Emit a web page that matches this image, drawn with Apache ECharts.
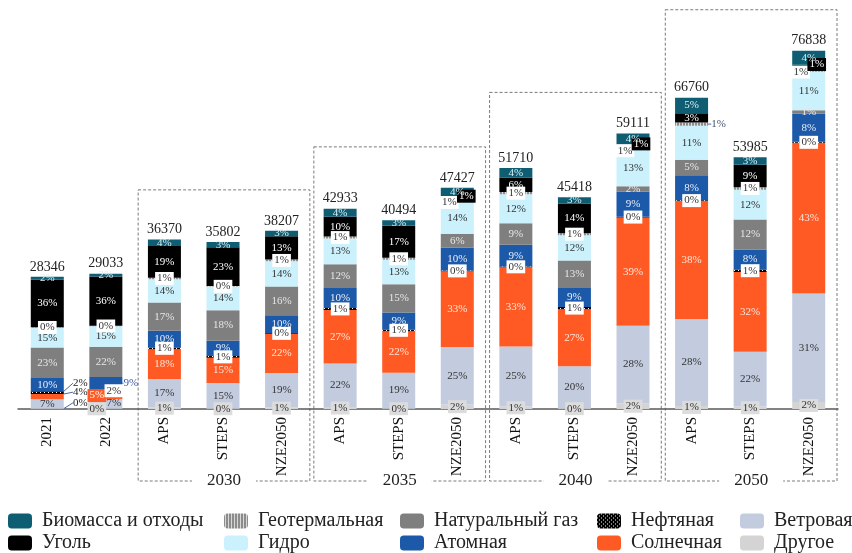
<!DOCTYPE html>
<html>
<head>
<meta charset="utf-8">
<script src="https://cdn.jsdelivr.net/npm/echarts@6/dist/echarts.min.js"></script>
<style>
html, body { margin: 0; padding: 0; background: #fff; }
#chart { width: 852px; height: 553px; }
</style>
</head>
<body>
<div id="chart"></div>
<script>
// категории по оси X
const categories = ['2021', '2022', 'APS', 'STEPS', 'NZE2050', 'APS', 'STEPS', 'NZE2050',
                    'APS', 'STEPS', 'NZE2050', 'APS', 'STEPS', 'NZE2050'];
const groupLabels = ['2030', '2035', '2040', '2050'];
const groupStart = [2, 5, 8, 11];

// итоговая выработка, ТВт·ч
const totals = [28346, 29033, 36370, 35802, 38207, 42933, 40494, 47427, 51710, 45418, 59111, 66760, 53985, 76838];

// доли, % (0.3 = на картинке «0%», но слой виден)
const otherShare   = [0.3, 0.3, 1, 0.3, 1, 1, 0.3, 2, 1, 0.3, 2, 1, 1, 2];
const windShare    = [7, 7, 17, 15, 19, 22, 19, 25, 25, 20, 28, 28, 22, 31];
const solarShare   = [4, 5, 18, 15, 22, 27, 22, 33, 33, 27, 39, 38, 32, 43];
const oilShare     = [2, 2, 1, 1, 0.3, 1, 1, 0.3, 0.3, 1, 0.3, 0.3, 1, 0.3];
const nuclearShare = [10, 9, 10, 9, 10, 10, 9, 10, 9, 9, 9, 8, 8, 8];
const gasShare     = [23, 22, 17, 18, 16, 12, 15, 6, 9, 13, 2, 5, 12, 1];
const hydroShare   = [15, 15, 14, 14, 14, 13, 13, 14, 12, 12, 13, 11, 12, 11];
const geoShare     = [0.3, 0.3, 1, 0.3, 1, 1, 1, 1, 1, 1, 1, 1, 1, 1];
const coalShare    = [36, 36, 19, 23, 13, 10, 17, 1, 6, 14, 1, 3, 9, 1];
const bioShare     = [2, 2, 4, 3, 3, 4, 3, 4, 4, 3, 4, 5, 3, 4];

const SERIF = 'Liberation Serif';

function pattern(size, bg, fg, dots) {
    const c = document.createElement('canvas');
    c.width = size; c.height = size;
    const ctx = c.getContext('2d');
    ctx.fillStyle = bg;
    ctx.fillRect(0, 0, size, size);
    ctx.fillStyle = fg;
    dots.forEach(d => ctx.fillRect(d[0], d[1], d[2], d[3]));
    return { image: c, repeat: 'repeat' };
}

const geoFill = pattern(3, '#8c8c8c', '#dcdcdc', [[1, 0, 1, 3]]);
const oilFill = pattern(4, '#000', '#fff', [[0, 0, 1, 1], [2, 2, 1, 1]]);

const plain = { backgroundColor: 'transparent', color: '#222', padding: 0 };
const whiteBox = { backgroundColor: '#fff', color: '#333', padding: [1, 2] };
const blackBox = { backgroundColor: '#000', padding: [1, 2] };

// снизу вверх; moves — сдвиг подписи [dx, dy], lines — с выноской
const sources = [
    { name: 'Другое', share: otherShare, color: '#d4d4d4',
      label: { color: '#333', backgroundColor: '#dcdcdc', padding: [1, 2] },
      items: { 0: { label: plain } },
      moves: { 0: [33, -6], 1: [-9, 0] }, lines: [0] },
    { name: 'Ветровая', share: windShare, color: '#c3ccdf', label: { color: '#333' },
      moves: { 1: [8, -1] } },
    { name: 'Солнечная', share: solarShare, color: '#ff5a24', label: { color: '#fde6dc' },
      items: { 0: { label: plain },
               1: { label: { backgroundColor: '#ff5a24', color: '#fff', padding: [1, 2] } } },
      moves: { 0: [33, -4.5], 1: [-9, 0] }, lines: [0] },
    { name: 'Нефтяная', share: oilShare, color: oilFill, label: whiteBox,
      items: { 0: { label: plain } },
      moves: { 0: [33, -9.5], 1: [8, 0] }, lines: [0] },
    { name: 'Атомная', share: nuclearShare, color: '#1c59a8', label: { color: '#e8eef8' },
      items: { 1: { label: { color: '#3a5ba8' } } },
      moves: { 1: [25, 0] }, lines: [1] },
    { name: 'Натуральный газ', share: gasShare, color: '#7f7f7f', label: { color: '#e6e6e6' } },
    { name: 'Гидро', share: hydroShare, color: '#cbf1fc', label: { color: '#333' } },
    { name: 'Геотермальная', share: geoShare, color: geoFill, label: whiteBox,
      items: { 11: { label: { backgroundColor: 'transparent', color: '#44546a', padding: 0 } } },
      moves: { 7: [-8, 2], 10: [-8, 2], 13: [-8, 2], 11: [27, 0] }, lines: [11] },
    { name: 'Уголь', share: coalShare, color: '#000', label: { color: '#fff' },
      items: { 7: { label: blackBox }, 10: { label: blackBox }, 13: { label: blackBox } },
      moves: { 7: [9, -2], 10: [8, -2], 13: [8, -2] } },
    { name: 'Биомасса и отходы', share: bioShare, color: '#0f5d73', label: { color: '#d8eef2' } }
];

const shareSum = totals.map((t, i) => sources.reduce((s, src) => s + src.share[i], 0));

function buildSeries(src) {
    const moves = src.moves || {};
    const lines = src.lines || [];
    const s = {
        name: src.name,
        type: 'bar',
        stack: 'total',
        barWidth: 33,
        itemStyle: { color: src.color },
        label: Object.assign({
            show: true,
            position: 'inside',
            fontFamily: SERIF,
            fontSize: 11,
            formatter: p => Math.round(src.share[p.dataIndex]) + '%'
        }, src.label),
        data: totals.map((t, i) => {
            const item = { value: t * src.share[i] / shareSum[i] };
            if (src.items && src.items[i]) Object.assign(item, src.items[i]);
            if (lines.indexOf(i) >= 0) item.labelLine = { show: true, lineStyle: { color: '#4a68a8', width: 1 } };
            return item;
        })
    };
    if (src.moves) {
        s.labelLayout = p => moves[p.dataIndex] ? { dx: moves[p.dataIndex][0], dy: moves[p.dataIndex][1] } : { dx: 0, dy: 0 };
    }
    return s;
}

const series = sources.map(buildSeries);
series.push({
    name: 'Итого',
    type: 'bar',
    barWidth: 33,
    barGap: '-100%',
    silent: true,
    itemStyle: { color: 'rgba(0,0,0,0)' },
    label: { show: true, position: 'top', distance: 3, fontFamily: SERIF, fontSize: 14, color: '#222' },
    data: totals
});

const legendCols = [
    ['Биомасса и отходы', 'Уголь'],
    ['Геотермальная', 'Гидро'],
    ['Натуральный газ', 'Атомная'],
    ['Нефтяная', 'Солнечная'],
    ['Ветровая', 'Другое']
];
const legendLeft = [8, 224, 400, 597, 740];

const chart = echarts.init(document.getElementById('chart'));
chart.setOption({
    animation: false,
    grid: { left: 18, right: 14, top: 36, bottom: 144, containLabel: false },
    xAxis: {
        type: 'category',
        data: categories,
        axisTick: { show: false },
        axisLine: { lineStyle: { color: '#595959', width: 1.5 } },
        axisLabel: { rotate: 90, margin: 8, fontFamily: SERIF, fontSize: 15, color: '#111' }
    },
    yAxis: { type: 'value', min: 0, max: 80000, show: false, splitLine: { show: false } },
    legend: legendCols.map((col, k) => ({
        data: col,
        orient: 'vertical',
        left: legendLeft[k],
        top: 511,
        height: 60,
        padding: 0,
        itemWidth: 24,
        itemHeight: 15,
        itemGap: 2,
        selectedMode: false,
        textStyle: { fontFamily: SERIF, fontSize: 20, lineHeight: 20, color: '#222', padding: [0, 0, 0, 5] }
    })),
    series: series
});

// пунктирные рамки групп 2030 / 2035 / 2040 / 2050
const band = chart.convertToPixel({ xAxisIndex: 0 }, 1) - chart.convertToPixel({ xAxisIndex: 0 }, 0);
const graphic = [];
groupStart.forEach((s, g) => {
    const x0 = chart.convertToPixel({ xAxisIndex: 0 }, s) - band / 2 + 3;
    const x1 = chart.convertToPixel({ xAxisIndex: 0 }, s + 2) + band / 2 - 1;
    const top = chart.convertToPixel({ yAxisIndex: 0 }, Math.max(...totals.slice(s, s + 3))) - 41;
    const bottom = 481;
    graphic.push({
        type: 'rect',
        shape: { x: x0, y: top, width: x1 - x0, height: bottom - top },
        style: { fill: 'none', stroke: '#7a7a7a', lineWidth: 1, lineDash: [3, 2] },
        z: 0
    });
    graphic.push({
        type: 'text',
        x: (x0 + x1) / 2,
        y: bottom,
        style: {
            text: groupLabels[g],
            fontFamily: SERIF,
            fontSize: 17,
            fill: '#222',
            align: 'center',
            verticalAlign: 'middle',
            backgroundColor: '#fff',
            padding: [0, 15]
        },
        z: 10
    });
});
chart.setOption({ graphic: graphic });
</script>
</body>
</html>
